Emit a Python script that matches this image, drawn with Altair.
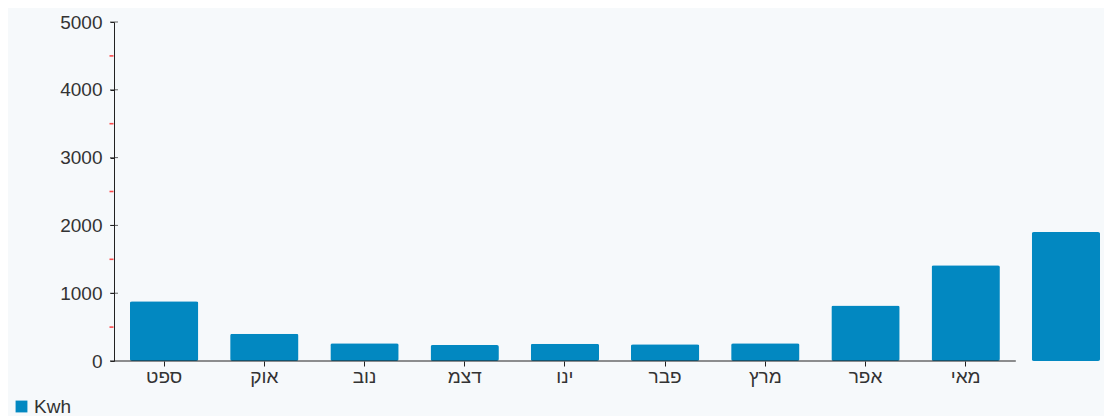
import altair as alt
import pandas as pd

months = ["ספט", "אוק", "נוב", "דצמ", "ינו", "פבר", "מרץ", "אפר", "מאי", "יונ"]
kwh = [882, 403, 261, 236, 255, 247, 261, 817, 1413, 1901]
series = ["Kwh"] * len(months)
major_ticks = [0, 1000, 2000, 3000, 4000, 5000]
minor_ticks = [500, 1500, 2500, 3500, 4500]

df = pd.DataFrame({"month": months, "kwh": kwh, "series": series})

W = 990
H = 339
FONT = "Liberation Sans"
BAR = "#0288c1"
INK = "#222222"

x_enc = alt.X(
    "month:N",
    sort=months,
    scale=alt.Scale(domain=months, range=[0, 1002], paddingInner=0.318, paddingOuter=0.159),
    axis=alt.Axis(
        title=None,
        domain=False,
        labelAngle=0,
        labelExpr="datum.value === 'יונ' ? '' : datum.label",
        tickOpacity={"condition": {"test": "datum.value === 'יונ'", "value": 0}, "value": 1},
        tickSize=5,
        tickColor=INK,
        labelFontSize=19,
        labelColor="#333333",
        labelPadding=1,
        labelFont=FONT,
    ),
)

y_scale = alt.Scale(domain=[0, 5000], nice=False)
y_axis = alt.Axis(
    title=None,
    values=major_ticks,
    format="d",
    tickColor=INK,
    tickSize=4,
    domainColor=INK,
    grid=False,
    labelFontSize=19,
    labelColor="#333333",
    labelPadding=8,
    labelFont=FONT,
)

bars = alt.Chart(df).mark_bar(cornerRadius=2).encode(
    x=x_enc,
    y=alt.Y("kwh:Q", scale=y_scale, axis=y_axis),
    color=alt.Color(
        "series:N",
        scale=alt.Scale(range=[BAR]),
        legend=alt.Legend(
            title=None,
            orient="none",
            legendX=-102,
            legendY=375,
            padding=0,
            symbolType="square",
            symbolSize=140,
            symbolStrokeWidth=0,
            labelFontSize=19,
            labelColor="#333333",
            labelFont=FONT,
            labelOffset=3,
        ),
    ),
)

inner_ticks = alt.Chart(pd.DataFrame({"t": major_ticks[1:]})).mark_tick(
    orient="horizontal", size=8, thickness=1, color=INK
).encode(y=alt.Y("t:Q", scale=y_scale), x=alt.value(0))

red_ticks = alt.Chart(pd.DataFrame({"m": minor_ticks})).mark_tick(
    orient="horizontal", size=4, thickness=1.6, color="#ff0000"
).encode(y=alt.Y("m:Q", scale=y_scale), x=alt.value(-2.5))

baseline = alt.Chart(pd.DataFrame({"b": [0]})).mark_rule(color=INK, strokeWidth=1.2).encode(
    x=alt.value(-4), x2=alt.value(1002 * 9 / 10), y=alt.value(H)
)

chart = (
    alt.layer(bars, inner_ticks, red_ticks, baseline)
    .properties(
        width=W,
        height=H,
        padding={"left": 106, "top": 14, "right": 0, "bottom": 55},
        autosize="none",
        background="#f6f9fb",
    )
    .configure_view(strokeWidth=0)
)

chart.save("out.html", embed_options={"renderer": "svg", "actions": False})
